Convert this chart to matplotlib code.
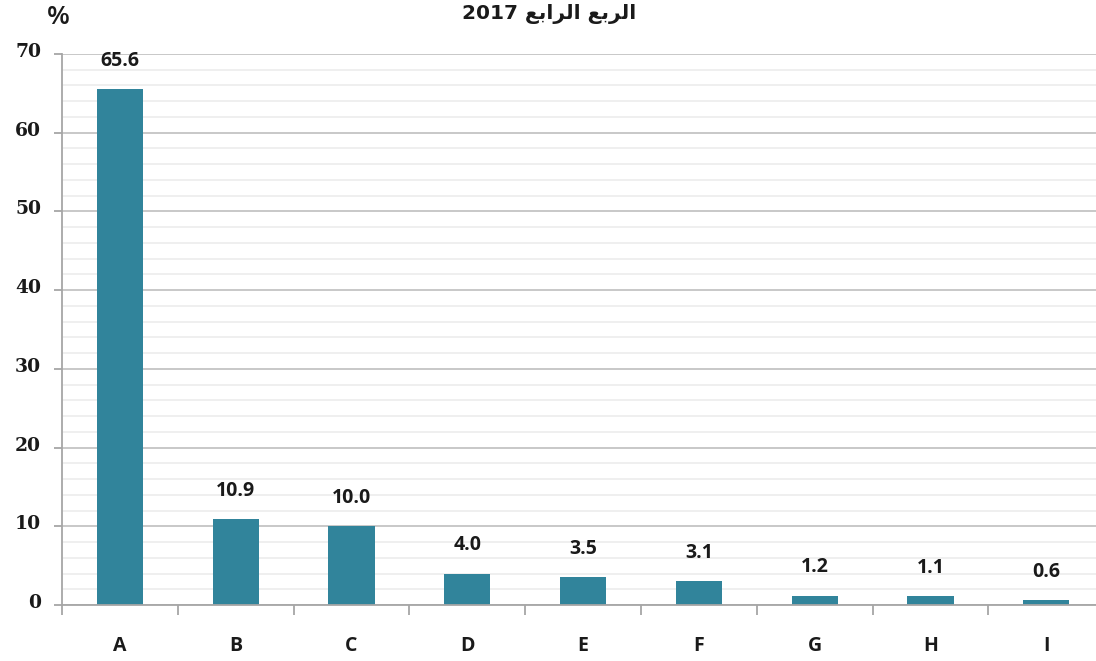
import matplotlib.pyplot as plt
from matplotlib.ticker import MultipleLocator, FixedLocator
from matplotlib.transforms import ScaledTranslation

categories = ['A', 'B', 'C', 'D', 'E', 'F', 'G', 'H', 'I']
values = [65.6, 10.9, 10.0, 4.0, 3.5, 3.1, 1.2, 1.1, 0.6]

# "الربع الرابع 2017" pre-shaped (presentation forms, visual order) since matplotlib has no bidi
title_txt = '2017 \uFECA\uFE91\uFE8D\uFEAE\uFEDF\uFE8D \uFECA\uFE91\uFEAE\uFEDF\uFE8D'

bar_color = '#31849B'
font = 'Open Sans'
serif = 'DejaVu Serif'

fig = plt.figure(figsize=(10.96, 6.61), dpi=100)
ax = fig.add_axes([62 / 1096, 1 - 605 / 661, 1 - 62 / 1096, (605 - 54) / 661])

x = list(range(len(categories)))
ax.bar(x, values, width=0.4, color=bar_color, zorder=3)

for xi, v in zip(x, values):
    ax.annotate(f'{v:.1f}', (xi, v), xytext=(0, 13), textcoords='offset points',
                ha='center', va='bottom', fontsize=14, fontweight='bold',
                family=font, color='#1a1a1a')

ax.set_ylim(0, 70)
ax.set_xlim(-0.5, -0.5 + 1034 / 115.8)

ax.yaxis.set_major_locator(MultipleLocator(10))
ax.yaxis.set_minor_locator(MultipleLocator(2))
ax.grid(axis='y', which='major', color='#c4c4c4', linewidth=1.3, zorder=0)
ax.grid(axis='y', which='minor', color='#eeeeee', linewidth=1.3, zorder=0)

ax.xaxis.set_major_locator(FixedLocator(x))
ax.xaxis.set_minor_locator(FixedLocator([i - 0.5 for i in x]))
ax.set_xticklabels(categories)
ax.tick_params(axis='x', which='major', length=0, pad=22)
ax.tick_params(axis='x', which='minor', length=7, width=1.3, color='#a6a6a6', direction='out')
ax.tick_params(axis='y', which='major', length=6, width=1.3, color='#a6a6a6', pad=9)
ax.tick_params(axis='y', which='minor', length=0)

for lab in ax.get_xticklabels():
    lab.set_fontfamily(font)
    lab.set_fontweight('bold')
    lab.set_fontsize(14)
    lab.set_color('#1a1a1a')

shift = ScaledTranslation(0, 4 / 100, fig.dpi_scale_trans)
for lab in ax.get_yticklabels():
    lab.set_fontfamily(serif)
    lab.set_fontweight('bold')
    lab.set_fontsize(13.5)
    lab.set_color('#1a1a1a')
    lab.set_transform(lab.get_transform() + shift)

for side in ['top', 'right']:
    ax.spines[side].set_visible(False)
for side in ['left', 'bottom']:
    ax.spines[side].set_color('#a6a6a6')
    ax.spines[side].set_linewidth(1.3)
    ax.spines[side].set_zorder(4)

fig.text(58 / 1096, 1 - 18 / 661, '%', ha='center', va='center', fontsize=19,
         family=font, fontweight='semibold', color='#1a1a1a')
fig.text(549 / 1096, 1 - 14 / 661, title_txt, ha='center', va='center', fontsize=14.5,
         fontweight='bold', family=['DejaVu Sans'], color='#1a1a1a')

plt.savefig('out.png', dpi=100)
